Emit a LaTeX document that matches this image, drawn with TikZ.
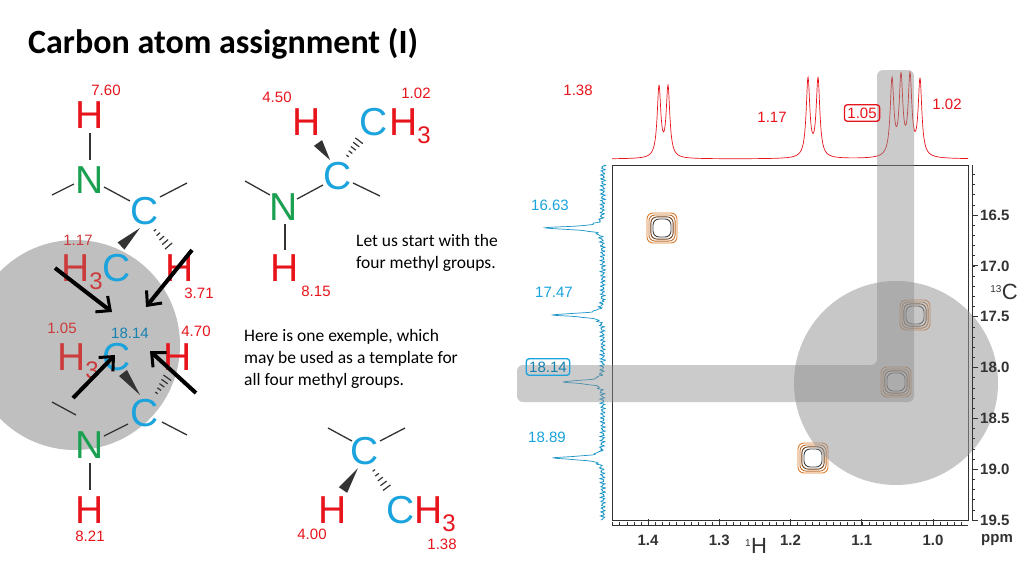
\documentclass[tikz,border=0pt]{standalone}
\usepackage{fontspec}
\setmainfont{Liberation Sans}
\newfontfamily\calfont{Carlito}
\usetikzlibrary{calc,arrows.meta}
\definecolor{hred}{HTML}{E8141C}
\definecolor{dred}{HTML}{CC3B3B}
\definecolor{cblue}{HTML}{1AA3DC}
\definecolor{ngreen}{HTML}{1AA050}
\definecolor{axg}{HTML}{333333}
\definecolor{org}{HTML}{E07B2A}
\tikzset{
 atom/.style={inner sep=0pt,font=\fontsize{39}{39}\selectfont},
 sub/.style={inner sep=0pt,font=\fontsize{24}{24}\selectfont},
 lab/.style={inner sep=0pt,font=\fontsize{15}{15}\selectfont},
 txt/.style={inner sep=0pt,align=left,anchor=north west,font=\calfont\fontsize{17.5}{22}\selectfont},
 bond/.style={line width=1.3pt,black!80},
 bigarrow/.style={line width=4pt,-{Straight Barb[length=11pt,width=20pt,line width=3pt]}},
 axl/.style={inner sep=0pt,text=axg,font=\bfseries\fontsize{15}{15}\selectfont},
 band/.style={fill=black!45,opacity=0.45,rounded corners=6pt},
 declare function={L(\d)=1/(1+(min(abs(\d),100))^2);},
}
\newcommand{\wedgeb}[2]{\fill[black!80] (#1) -- ($(#2)!5pt!90:(#1)$) -- ($(#2)!5pt!-90:(#1)$) -- cycle;}
\newcommand{\hashb}[2]{\foreach \t in {0.1,0.28,0.46,0.64,0.82,1.0}{\coordinate (hp) at ($(#1)!\t!(#2)$);
 \draw[line width=1.2pt,black!80] ($(hp)!{1pt+4.5pt*\t}!90:(#2)$) -- ($(hp)!{1pt+4.5pt*\t}!-90:(#2)$);}}
\begin{document}
\begin{tikzpicture}[x=1pt,y=-1pt]
\useasboundingbox (0,0) rectangle (1024,576);
\fill[white] (0,0) rectangle (1024,576);
\node[inner sep=0pt,anchor=west,font=\calfont\bfseries\fontsize{34}{34}\selectfont] (title) at (28,44) {Carbon atom assignment (I)};
% ---------- left molecule
\fill[black!25] (75,345) circle (105);
\node[lab,text=hred] (l760) at (106,90) {7.60};
\node[atom,text=hred] (h1) at (90,115) {H};
\node[atom,text=ngreen] (n1) at (90,180) {N};
\node[atom,text=cblue] (c1) at (145,211) {C};
\draw[bond] (90,133) -- (90,160);
\draw[bond] (52,195) -- (74,184);
\draw[bond] (104,187) -- (130,201);
\draw[bond] (160,197) -- (187,183);
\coordinate (w1a) at (140,228); \coordinate (w1b) at (121,246);
\wedgeb{w1a}{w1b}
\coordinate (k1a) at (153,228); \coordinate (k1b) at (172,250);
\hashb{k1a}{k1b}
\node[lab,text=dred] (l117) at (78,240) {1.17};
\node[atom,text=dred] (h2) at (76,268) {H};
\node[sub,text=dred] (s2) at (96,281) {3};
\node[atom,text=cblue] (c2) at (117,268) {C};
\node[atom,text=hred] (h3) at (180,268) {H};
\node[lab,text=hred] (l371) at (199,293) {3.71};
\node[lab,text=dred] (l105) at (62,328) {1.05};
\node[lab,text=cblue!80!black] (l1814) at (130,333) {18.14};
\node[lab,text=hred] (l470) at (196,331) {4.70};
\node[atom,text=dred] (h4) at (72,357) {H};
\node[sub,text=dred] (s4) at (92,370) {3};
\node[atom,text=cblue] (c3) at (117,357) {C};
\node[atom,text=hred] (h5) at (178,357) {H};
\coordinate (w2a) at (140,395); \coordinate (w2b) at (123,373);
\wedgeb{w2a}{w2b}
\coordinate (k2a) at (155,395); \coordinate (k2b) at (170,374);
\hashb{k2a}{k2b}
\node[atom,text=cblue] (c4) at (145,413) {C};
\draw[bond] (52,402) -- (76,415);
\draw[bond] (128,424) -- (104,436);
\draw[bond] (162,422) -- (187,435);
\node[atom,text=ngreen] (n2) at (90,445) {N};
\draw[bond] (90,463) -- (90,490);
\node[atom,text=hred] (h6) at (90,510) {H};
\node[lab,text=hred] (l821) at (90,536) {8.21};
\coordinate (a1s) at (55,268); \coordinate (a1e) at (112,312);
\coordinate (a2s) at (192,250); \coordinate (a2e) at (146,307);
\coordinate (a3s) at (73,398); \coordinate (a3e) at (115,355);
\coordinate (a4s) at (196,393); \coordinate (a4e) at (150,351);
\draw[bigarrow] (a1s) -- (a1e);
\draw[bigarrow] (a2s) -- (a2e);
\draw[bigarrow] (a3s) -- (a3e);
\draw[bigarrow] (a4s) -- (a4e);
% ---------- middle top molecule
\node[lab,text=hred] (l450) at (277,97) {4.50};
\node[atom,text=hred] (h7) at (307,122) {H};
\node[lab,text=hred] (l102) at (416,93) {1.02};
\node[atom,text=cblue] (c5) at (374,122) {C};
\node[atom,text=hred] (h8) at (404,122) {H};
\node[sub,text=hred] (s8) at (424,135) {3};
\node[atom,text=cblue] (c6) at (338,176) {C};
\coordinate (w3a) at (330,160); \coordinate (w3b) at (318,143);
\wedgeb{w3a}{w3b}
\coordinate (k3a) at (346,158); \coordinate (k3b) at (362,137);
\hashb{k3a}{k3b}
\node[atom,text=ngreen] (n3) at (284,207) {N};
\draw[bond] (245,181) -- (270,195);
\draw[bond] (297,199) -- (323,185);
\draw[bond] (353,183) -- (380,196);
\draw[bond] (285,224) -- (285,250);
\node[atom,text=hred] (h9) at (285,268) {H};
\node[lab,text=hred] (l815) at (316,291) {8.15};
\node[txt] (t1) at (356,234) {Let us start with the\\four methyl groups.};
\node[txt] (t2) at (244,329) {Here is one exemple, which\\may be used as a template for\\all four methyl groups.};
% ---------- bottom middle molecule
\node[atom,text=cblue] (c7) at (365,451) {C};
\draw[bond] (328,428) -- (352,441);
\draw[bond] (380,441) -- (405,428);
\coordinate (w4a) at (358,468); \coordinate (w4b) at (343,490);
\wedgeb{w4a}{w4b}
\coordinate (k4a) at (372,468); \coordinate (k4b) at (390,492);
\hashb{k4a}{k4b}
\node[atom,text=hred] (h10) at (333,510) {H};
\node[lab,text=hred] (l400) at (312,534) {4.00};
\node[atom,text=cblue] (c8) at (401,510) {C};
\node[atom,text=hred] (h11) at (429,510) {H};
\node[sub,text=hred] (s11) at (449,523) {3};
\node[lab,text=hred] (l138b) at (442,544) {1.38};
% ---------- spectrum
\draw[hred,line width=0.7pt] plot[domain=612:968,samples=700,smooth] (\x,{159
 -70*L((\x-659)/2.2)-70*L((\x-668)/2.2)
 -78*L((\x-808)/2.2)-78*L((\x-818)/2.2)
 -76*L((\x-892)/2.2)-77*L((\x-901)/2.2)-78*L((\x-910)/2.2)-76*L((\x-920)/2.2)});
\draw[cblue!90!black,line width=0.7pt] plot[domain=165:520,samples=600,smooth] ({603
 -58*L((\x-228)/1.8)-50*L((\x-315)/1.8)-40*L((\x-382)/1.8)-50*L((\x-458)/1.8)
 +1.6*sin(97*mod(\x,150))+1.2*sin(173*mod(\x,90))},\x);
\draw[line width=0.8pt,axg] (612,165) rectangle (968,520);
% contours
\foreach \cx/\cy in {662/228,915/315,896/382,813/458}{
 \foreach \r/\c in {1/org,0.87/org!85!black,0.74/org!50!black,0.6/black!75}{
 \draw[\c,line width=0.9pt,rounded corners=6pt] (\cx-15*\r,\cy-15*\r) rectangle (\cx+15*\r,\cy+15*\r);}
}
% grey overlays
\fill[black!40,opacity=0.55] (896,383) circle (102);
\fill[band] (877,70) -- (914,70) -- (914,402) -- (517,402) -- (517,365) -- (877,365) -- cycle;
% right axis
\draw[axg,line width=0.8pt] (972,165) -- (972,520);
\foreach \c/\s in {16.5/16.5,17.0/17.0,17.5/17.5,18.0/18.0,18.5/18.5,19.0/19.0,19.5/19.5}{
 \draw[axg,line width=0.8pt] (972,{215+(\c-16.5)*101.7}) -- (978,{215+(\c-16.5)*101.7});
 \node[axl,anchor=west] at (980,{215+(\c-16.5)*101.7}) {\s};}
\foreach \c in {16.1,16.2,...,19.55}{\draw[axg,line width=0.5pt] (972,{215+(\c-16.5)*101.7}) -- (975,{215+(\c-16.5)*101.7});}
\node[inner sep=0pt,text=axg,font=\fontsize{22}{22}\selectfont] (c13) at (1004,292) {\textsuperscript{\fontsize{10}{10}\selectfont 13}C};
% bottom axis
\draw[axg,line width=0.8pt] (612,525) -- (968,525);
\foreach \p/\s in {1.4/1.4,1.3/1.3,1.2/1.2,1.1/1.1,1.0/1.0}{
 \draw[axg,line width=0.8pt] ({648+(1.4-\p)*712.5},525) -- ({648+(1.4-\p)*712.5},519);
 \node[axl] at ({648+(1.4-\p)*712.5},540) {\s};}
\foreach \p in {0.96,0.97,...,1.451}{\draw[axg,line width=0.5pt] ({648+(1.4-\p)*712.5},525) -- ({648+(1.4-\p)*712.5},522);}
\node[axl] (ppm) at (997,540) {ppm};
\node[inner sep=0pt,text=axg,font=\fontsize{22}{22}\selectfont] (h1ax) at (756,546) {\textsuperscript{\fontsize{10}{10}\selectfont 1}H};
% spectrum labels
\node[lab,text=hred] (s138) at (578,90) {1.38};
\node[lab,text=hred] (s117) at (772,117) {1.17};
\node[lab,text=hred,draw=hred,line width=1.3pt,rounded corners=3pt,inner sep=3pt] (s105) at (862,113) {1.05};
\node[lab,text=hred] (s102) at (947,104) {1.02};
\node[lab,text=cblue] (s1663) at (550,205) {16.63};
\node[lab,text=cblue] (s1747) at (554,292) {17.47};
\node[lab,text=cblue!80!black,draw=cblue,line width=1.3pt,rounded corners=3pt,inner sep=3pt] (s1814) at (548,367) {18.14};
\node[lab,text=cblue] (s1889) at (547,437) {18.89};
\end{tikzpicture}
\end{document}
